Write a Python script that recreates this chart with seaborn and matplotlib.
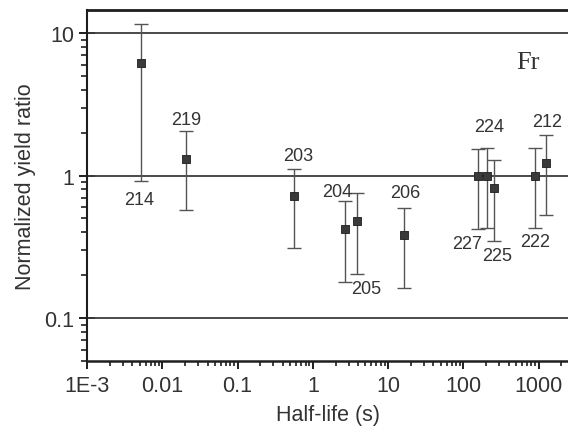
import numpy as np
import pandas as pd
import matplotlib
matplotlib.use("Agg")
import matplotlib.pyplot as plt
from matplotlib.ticker import FixedLocator, FixedFormatter, NullFormatter
import seaborn as sns

# Francium isotopes: half-life (s), normalized yield ratio and its error range
isotopes = ["214", "219", "203", "204", "205", "206", "227", "224", "225", "222", "212"]
half_life = [0.0052, 0.0206, 0.57, 2.7, 3.9, 16.4, 155, 207, 251, 897, 1260]
ratio = [6.2, 1.31, 0.72, 0.42, 0.477, 0.384, 0.985, 1.0, 0.82, 1.0, 1.23]
ratio_low = [0.92, 0.57, 0.31, 0.18, 0.205, 0.163, 0.42, 0.43, 0.35, 0.43, 0.525]
ratio_high = [11.5, 2.05, 1.12, 0.66, 0.75, 0.594, 1.54, 1.56, 1.29, 1.57, 1.93]

x_ticks = [1e-3, 1e-2, 1e-1, 1, 10, 100, 1000]
x_tick_labels = ["1E-3", "0.01", "0.1", "1", "10", "100", "1000"]
y_ticks = [0.1, 1, 10]
y_tick_labels = ["0.1", "1", "10"]

df = pd.DataFrame({"half_life": half_life, "ratio": ratio,
                   "low": ratio_low, "high": ratio_high, "iso": isotopes})

sns.set_style("ticks")
plt.rcParams["font.family"] = ["Liberation Sans", "DejaVu Sans"]

fig = plt.figure(figsize=(5.68, 4.31), dpi=100)
ax = fig.add_axes([87 / 568, 1 - 362 / 431, 1 - 87 / 568, (362 - 11) / 431])

ax.set_xscale("log")
ax.set_yscale("log")
ax.set_xlim(1e-3, 2450)
ax.set_ylim(0.05, 14.5)

# reference lines at each decade
for yv in y_ticks:
    ax.axhline(yv, color="#3c3c3c", lw=1.3, zorder=1)

ink = "#555555"
ax.errorbar(df["half_life"], df["ratio"],
            yerr=[df["ratio"] - df["low"], df["high"] - df["ratio"]],
            fmt="none", ecolor=ink, elinewidth=1.0, capsize=5, capthick=1.0, zorder=2)
sns.scatterplot(data=df, x="half_life", y="ratio", marker="s", s=26,
                color="#3a3a3a", edgecolor="#1e1e1e", linewidth=0.6, ax=ax, zorder=3)

# isotope mass labels next to their error bars (dx, dy in pixels; anchor at bar end)
label_place = {
    "214": ("low", -2, -19), "219": ("high", 0, 12), "203": ("high", 4, 13),
    "204": ("high", -8, 10), "205": ("low", 9, -15), "206": ("high", 1, 15),
    "227": ("low", -11, -14), "224": ("high", 2, 22), "225": ("low", 4, -15),
    "222": ("low", 0, -14), "212": ("high", 1, 13),
}
text_ink = "#333333"
for _, row in df.iterrows():
    end, dx, dy = label_place[row["iso"]]
    ax.annotate(row["iso"], xy=(row["half_life"], row[end]), xytext=(dx, dy),
                textcoords="offset pixels", ha="center", va="center",
                fontsize=13, color=text_ink)

ax.text(0.917, 0.852, "Fr", transform=ax.transAxes, ha="center", va="center",
        fontsize=19, family=["Liberation Serif", "DejaVu Serif"], color=text_ink)


def log_minor(first_decade, last_decade):
    return [k * 10.0 ** d for d in range(first_decade, last_decade + 1) for k in range(2, 10)]


ax.xaxis.set_major_locator(FixedLocator(x_ticks))
ax.xaxis.set_major_formatter(FixedFormatter(x_tick_labels))
ax.xaxis.set_minor_locator(FixedLocator(log_minor(-3, 3)))
ax.xaxis.set_minor_formatter(NullFormatter())
ax.yaxis.set_major_locator(FixedLocator(y_ticks))
ax.yaxis.set_major_formatter(FixedFormatter(y_tick_labels))
ax.yaxis.set_minor_locator(FixedLocator(log_minor(-2, 1)))
ax.yaxis.set_minor_formatter(NullFormatter())

ax.tick_params(axis="x", which="major", direction="out", length=6, width=1.4,
               color="#1e1e1e", labelcolor=text_ink, labelsize=15.5, pad=4,
               bottom=True, top=False)
ax.tick_params(axis="x", which="minor", direction="out", length=3.5, width=1.2,
               color="#1e1e1e", bottom=True, top=False)
ax.tick_params(axis="y", which="major", direction="inout", length=12, width=1.4,
               color="#1e1e1e", labelcolor=text_ink, labelsize=15.5, pad=3,
               left=True, right=False)
ax.tick_params(axis="y", which="minor", direction="out", length=4, width=1.2,
               color="#1e1e1e", left=True, right=False)

ax.spines["right"].set_visible(False)
ax.spines["top"].set_linewidth(2.0)
ax.spines["bottom"].set_linewidth(1.8)
ax.spines["left"].set_linewidth(1.5)
for side in ("top", "bottom", "left"):
    ax.spines[side].set_color("#1e1e1e")

ax.set_xlabel("Half-life (s)", fontsize=15.5, color=text_ink, labelpad=6)
ax.set_ylabel("Normalized yield ratio", fontsize=15.5, color=text_ink, labelpad=6)

fig.savefig("out.png", dpi=100, facecolor="white")
